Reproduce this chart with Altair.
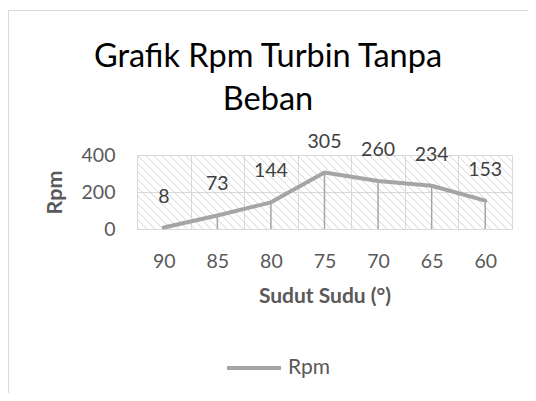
import altair as alt
import pandas as pd

# ---- data ----
angles = ["90", "85", "80", "75", "70", "65", "60"]
rpm = [8, 73, 144, 305, 260, 234, 153]
series_name = "Rpm"
title_lines = ["Grafik Rpm Turbin Tanpa", "Beban"]
x_title = "Sudut Sudu (°)"
y_title = "Rpm"
y_ticks = [0, 200, 400]

FONT = "Lato"
W, H = 375, 74
GRID = "#d9d9d9"
LINE = "#a5a5a5"
TXT = "#595959"

df = pd.DataFrame({"angle": angles, "rpm": rpm, "series": [series_name] * len(rpm)})

xenc = alt.X(
    "angle:N",
    sort=angles,
    scale=alt.Scale(type="band", paddingInner=0, paddingOuter=0),
    bandPosition=0.5,
    axis=alt.Axis(
        title=x_title, labelAngle=0, ticks=False, grid=True, gridColor=GRID,
        tickBand="extent", domainColor=GRID, labelFontSize=19.5, labelColor=TXT,
        labelFont=FONT, labelPadding=23, titleFont=FONT, titleFontSize=21,
        titleFontWeight="bold", titleColor=TXT, titlePadding=15,
    ),
)
yenc = alt.Y(
    "rpm:Q",
    scale=alt.Scale(domain=[0, 400], nice=False),
    axis=alt.Axis(
        values=y_ticks, title=y_title, ticks=False, domain=False, gridColor=GRID,
        labelFontSize=19.5, labelColor=TXT, labelFont=FONT, labelPadding=22,
        titleFont=FONT, titleFontSize=21.5, titleFontWeight="bold", titleColor=TXT,
        titlePadding=15,
    ),
)

base = alt.Chart(df)

drops = base.mark_rule(color=LINE, strokeWidth=1.5).encode(
    x=xenc, y=yenc, y2=alt.datum(0)
)
line = base.mark_line(strokeWidth=4, strokeCap="round", strokeJoin="round").encode(
    x=xenc,
    y=yenc,
    color=alt.Color(
        "series:N",
        scale=alt.Scale(range=[LINE]),
        legend=alt.Legend(
            orient="none", legendX=88, legendY=184, title=None,
            symbolType="stroke", symbolStrokeWidth=4, symbolSize=2916,
            labelFontSize=21, labelColor=TXT, labelFont=FONT, labelOffset=5,
        ),
    ),
)
labels = base.mark_text(
    dy=-31, baseline="middle", fontSize=19.5, font=FONT, color="#404040"
).encode(x=xenc, y=yenc, text="rpm:Q")

inner = alt.layer(drops, line, labels)

# hatch pattern of the plot area (pixel space)
hatch = (
    alt.Chart(alt.sequence(start=-80, stop=W + 8, step=8, as_="hx"))
    .transform_calculate(hx2=f"datum.hx + {H}", hy="0", hy2=f"{H}")
    .mark_rule(color="#d6d6d6", strokeWidth=1, clip=True)
    .encode(
        x=alt.X("hx:Q", scale=None, axis=None),
        x2="hx2:Q",
        y=alt.Y("hy:Q", scale=None, axis=None),
        y2="hy2:Q",
    )
)

title = alt.Chart(pd.DataFrame({"t": ["\n".join(title_lines)]})).mark_text(
    font=FONT, fontSize=32.5, color="black", align="center", baseline="alphabetic",
    lineBreak="\n", lineHeight=43,
).encode(text="t:N", x=alt.value(131), y=alt.value(-88))

frame = pd.DataFrame({"k": [0]})
border_top = alt.Chart(frame).mark_rule(color=GRID, strokeWidth=1).encode(
    x=alt.value(-128.5), x2=alt.value(400), y=alt.value(-144.5)
)
border_left = alt.Chart(frame).mark_rule(color=GRID, strokeWidth=1).encode(
    x=alt.value(-128.5), y=alt.value(-144.5), y2=alt.value(240)
)

chart = (
    alt.layer(hatch, inner, title, border_top, border_left)
    .resolve_scale(x="independent", y="independent")
    .properties(
        width=W, height=H,
        autosize=alt.AutoSizeParams(type="none"),
        padding={"left": 129, "top": 147, "right": 16, "bottom": 164},
    )
    .configure_view(stroke=None)
)

chart.save("out.html", embed_options={"renderer": "svg", "actions": False})
